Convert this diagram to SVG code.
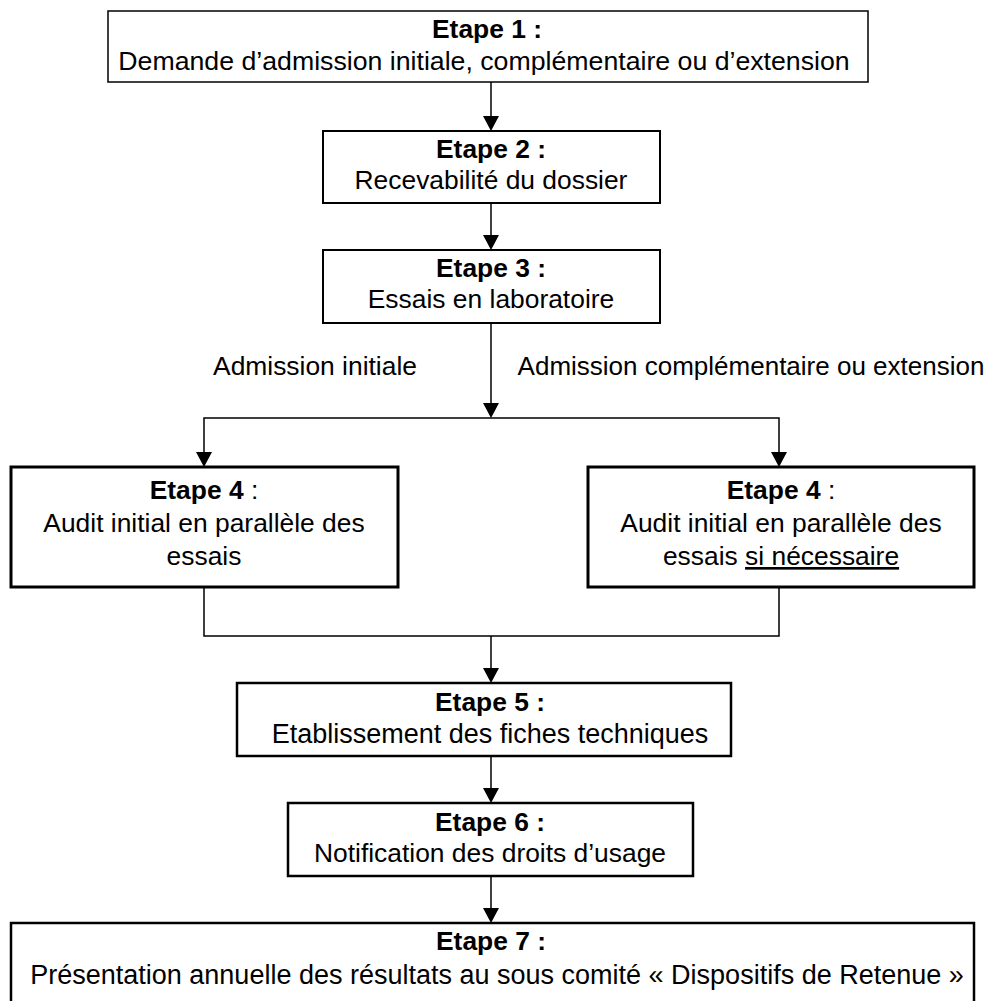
<svg xmlns="http://www.w3.org/2000/svg" width="995" height="1001" viewBox="0 0 995 1001">
<style>
.box{fill:#fff;stroke:#000;stroke-width:2.5}
.t{font-family:"Liberation Sans",Arial,sans-serif;font-size:26.4px;fill:#000;text-anchor:middle}
.l{font-size:27px}
.b{font-weight:bold}
.c{fill:none;stroke:#000;stroke-width:1.5}
.h{fill:#000}
</style>
<rect width="995" height="1001" fill="#fff"/>
<g id="connectors">
<line class="c" x1="491" y1="82" x2="491" y2="117"/>
<path class="h" d="M483,116 L499,116 L491,131 Z"/>
<line class="c" x1="491" y1="203" x2="491" y2="236"/>
<path class="h" d="M483,235 L499,235 L491,250 Z"/>
<line class="c" x1="491" y1="323" x2="491" y2="404"/>
<path class="h" d="M483,403 L499,403 L491,418 Z"/>
<polyline class="c" points="204,453 204,418 779,418 779,453"/>
<path class="h" d="M196,452 L212,452 L204,467 Z"/>
<path class="h" d="M771,452 L787,452 L779,467 Z"/>
<polyline class="c" points="204,587 204,636 779,636 779,587"/>
<line class="c" x1="491" y1="636" x2="491" y2="669"/>
<path class="h" d="M483,668 L499,668 L491,683 Z"/>
<line class="c" x1="491" y1="756" x2="491" y2="789"/>
<path class="h" d="M483,788 L499,788 L491,803 Z"/>
<line class="c" x1="491" y1="876" x2="491" y2="909"/>
<path class="h" d="M483,908 L499,908 L491,923 Z"/>
<text class="t" x="315" y="375">Admission initiale</text>
<text class="t" x="751" y="375" style="font-size:26px">Admission complémentaire ou extension</text>
</g>
<g id="etape1">
<rect class="box" x="108" y="11" width="760" height="71" style="stroke-width:1.5"/>
<text class="t b" x="487" y="38">Etape 1 :</text>
<text class="t" x="484" y="70" style="font-size:26.7px">Demande d’admission initiale, complémentaire ou d’extension</text>
</g>
<g id="etape2">
<rect class="box" x="323" y="131" width="337" height="72" style="stroke-width:2"/>
<text class="t b" x="491" y="158">Etape 2 :</text>
<text class="t" x="491" y="189">Recevabilité du dossier</text>
</g>
<g id="etape3">
<rect class="box" x="323" y="250" width="337" height="73" style="stroke-width:2"/>
<text class="t b" x="491" y="277">Etape 3 :</text>
<text class="t" x="491" y="308">Essais en laboratoire</text>
</g>
<g id="etape4a">
<rect class="box" x="11" y="467" width="387" height="120" style="stroke-width:3"/>
<text class="t" x="204" y="499"><tspan class="b">Etape 4</tspan> :</text>
<text class="t" x="204" y="532">Audit initial en parallèle des</text>
<text class="t" x="204" y="565">essais</text>
</g>
<g id="etape4b">
<rect class="box" x="588" y="467" width="386" height="120" style="stroke-width:3"/>
<text class="t" x="781" y="499"><tspan class="b">Etape 4</tspan> :</text>
<text class="t" x="781" y="532">Audit initial en parallèle des</text>
<text class="t" x="781" y="565">essais <tspan text-decoration="underline">si nécessaire</tspan></text>
</g>
<g id="etape5">
<rect class="box" x="237" y="683" width="494" height="73"/>
<text class="t b" x="490" y="711">Etape 5 :</text>
<text class="t l" x="490" y="743">Etablissement des fiches techniques</text>
</g>
<g id="etape6">
<rect class="box" x="288" y="803" width="405" height="73"/>
<text class="t b" x="490" y="831">Etape 6 :</text>
<text class="t" x="490" y="862">Notification des droits d’usage</text>
</g>
<g id="etape7">
<rect class="box" x="11" y="923" width="963" height="90"/>
<text class="t b" x="491" y="950">Etape 7 :</text>
<text class="t l" x="497" y="984">Présentation annuelle des résultats au sous comité « Dispositifs de Retenue »</text>
</g>
</svg>
